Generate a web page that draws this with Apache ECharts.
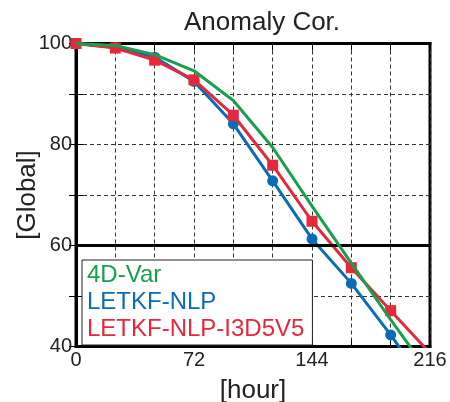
<!DOCTYPE html>
<html>
<head>
<meta charset="utf-8">
<script src="https://cdn.jsdelivr.net/npm/echarts@6/dist/echarts.min.js"></script>
<style>
html,body{margin:0;padding:0;background:#fff;}
#c{width:450px;height:402px;}
</style>
</head>
<body>
<div id="c"></div>
<script>
const hours = [0, 24, 48, 72, 96, 120, 144, 168, 192, 216];
const var4d = [100, 99.6, 97.8, 94.6, 88.7, 79.4, 67.8, 56.5, 45.3, 34.5];
const letkfNlp = [100, 99.2, 97.3, 92.5, 84.1, 72.8, 61.3, 52.5, 42.3, 31.3];
const letkfNlpI3D5V5 = [100, 99.1, 96.7, 92.8, 85.8, 75.9, 64.8, 55.6, 47.1, 38.7];
const names = ['4D-Var', 'LETKF-NLP', 'LETKF-NLP-I3D5V5'];
const colors = ['#17a04c', '#0b6cb6', '#e6283a'];
const xLabelTicks = [0, 72, 144, 216];
const yLabelTicks = [40, 60, 80, 100];
const threshold = 60;

const pair = arr => hours.map((h, i) => [h, arr[i]]);
const FONT = 'Liberation Sans';

const chart = echarts.init(document.getElementById('c'));
const dash = {color: '#333', width: 1, type: [4, 3]};
chart.setOption({
  animation: false,
  textStyle: {fontFamily: FONT},
  title: {
    text: 'Anomaly Cor.', left: 179, top: 5,
    textStyle: {fontFamily: FONT, fontSize: 26, fontWeight: 'normal', color: '#222'}
  },
  grid: {left: 76, right: 20, top: 43.5, bottom: 55.5, show: true,
         containLabel: false, outerBoundsMode: 'none',
         borderColor: '#000', borderWidth: 3, backgroundColor: 'transparent'},
  legend: {
    orient: 'vertical', left: 82, top: 260,
    icon: 'none', itemWidth: 0, itemHeight: 0, itemGap: 3, textGap: 1,
    padding: [3, 8, 4, 0],
    backgroundColor: '#fff', borderColor: '#222', borderWidth: 1,
    textStyle: {fontFamily: FONT, fontSize: 24, lineHeight: 24},
    data: names.map((n, i) => ({name: n, textStyle: {color: colors[i]}})),
    selectedMode: false
  },
  xAxis: [{
    type: 'value', min: 0, max: 216, interval: 24,
    name: '[hour]', nameLocation: 'middle', nameGap: 31, nameMoveOverlap: false,
    nameTextStyle: {fontFamily: FONT, fontSize: 26, color: '#222'},
    axisLine: {show: true, onZero: false, lineStyle: {color: '#000', width: 3}},
    axisTick: {show: true, inside: true, length: 7, lineStyle: {color: '#000', width: 1}},
    axisLabel: {fontFamily: FONT, fontSize: 20, color: '#222', margin: 4,
                formatter: v => xLabelTicks.includes(v) ? String(v) : ''},
    splitLine: {show: true, lineStyle: dash}
  }, {
    type: 'value', min: 0, max: 216, interval: 24, position: 'top',
    axisLine: {show: true, lineStyle: {color: '#000', width: 3}},
    axisTick: {show: true, inside: true, length: 7, lineStyle: {color: '#000', width: 1}},
    axisLabel: {show: false}, splitLine: {show: false}
  }],
  yAxis: [{
    type: 'value', min: 40, max: 100, interval: 10,
    name: '[Global]', nameLocation: 'middle', nameGap: 35, nameRotate: 90, nameMoveOverlap: false,
    nameTextStyle: {fontFamily: FONT, fontSize: 26, color: '#222'},
    axisLine: {show: true, lineStyle: {color: '#000', width: 3}},
    axisTick: {show: true, inside: true, length: 7, lineStyle: {color: '#000', width: 1}},
    axisLabel: {fontFamily: FONT, fontSize: 20, color: '#222', margin: 4,
                formatter: v => yLabelTicks.includes(v) ? String(v) : ''},
    splitLine: {show: true, lineStyle: dash}
  }, {
    type: 'value', min: 40, max: 100, interval: 10, position: 'right',
    axisLine: {show: true, lineStyle: {color: '#000', width: 3}},
    axisTick: {show: true, inside: true, length: 7, lineStyle: {color: '#000', width: 1}},
    axisLabel: {show: false}, splitLine: {show: false}
  }],
  series: [
    {
      name: 'threshold', type: 'line', data: [], z: 1,
      markLine: {silent: true, symbol: 'none', label: {show: false},
                 lineStyle: {color: '#000', width: 3, type: 'solid'},
                 data: [{yAxis: threshold}]}
    },
    {
      name: names[1], type: 'line', data: pair(letkfNlp), z: 3,
      symbol: 'circle', symbolSize: 11, color: colors[1],
      lineStyle: {width: 3, color: colors[1]}, itemStyle: {color: colors[1]}, clip: true
    },
    {
      name: names[2], type: 'line', data: pair(letkfNlpI3D5V5), z: 4,
      symbol: 'rect', symbolSize: 11, color: colors[2],
      lineStyle: {width: 3, color: colors[2]}, itemStyle: {color: colors[2]}, clip: true
    },
    {
      name: names[0], type: 'line', data: pair(var4d), z: 5,
      symbol: 'none', color: colors[0],
      lineStyle: {width: 3, color: colors[0]}, clip: true
    }
  ]
});
</script>
</body>
</html>
